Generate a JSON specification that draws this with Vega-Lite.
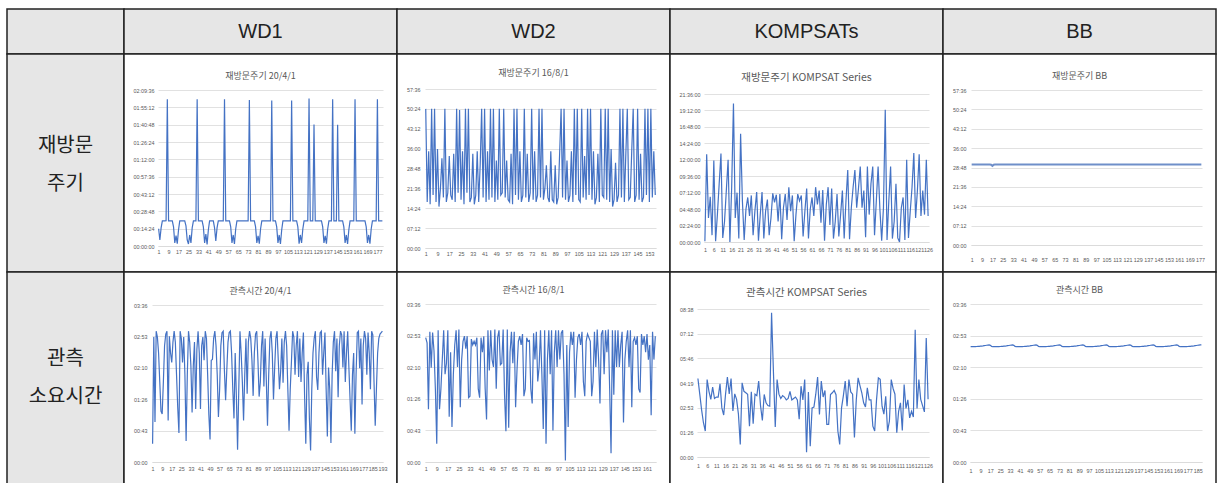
{
"$schema": "https://vega.github.io/schema/vega-lite/v6.json",
"background": "white",
"padding": {"left": 6, "top": 8, "right": 0, "bottom": 0},
"columns": 5,
"spacing": 0,
"bounds": "flush",
"config": {
  "view": {"stroke": null},
  "concat": {"spacing": 0},
  "font": "Noto Sans CJK KR",
  "axis": {"labelFont": "Liberation Sans", "labelFontSize": 5.4, "labelColor": "#595959", "ticks": false, "title": null, "gridColor": "#d9d9d9", "gridWidth": 0.8, "domainColor": "#d9d9d9", "domainWidth": 0.8, "labelAngle": 0, "labelOverlap": false, "labelFlush": false},
  "axisX": {"grid": false},
  "axisY": {"grid": true, "domain": false},
  "title": {"font": "Noto Sans CJK KR", "fontSize": 9, "fontWeight": "normal", "color": "#595959", "anchor": "middle", "baseline": "middle", "frame": "group"},
  "line": {"color": "#4472C4", "strokeWidth": 1.2}
},
"datasets": {
"a": [{"i":1,"v":860},{"i":2,"v":300},{"i":3,"v":900},{"i":4,"v":1250},{"i":5,"v":1250},{"i":6,"v":1250},{"i":7,"v":1260},{"i":8,"v":7310},{"i":9,"v":1250},{"i":10,"v":1250},{"i":11,"v":1250},{"i":12,"v":1250},{"i":13,"v":950},{"i":14,"v":150},{"i":15,"v":520},{"i":16,"v":120},{"i":17,"v":800},{"i":18,"v":1250},{"i":19,"v":1250},{"i":20,"v":1250},{"i":21,"v":1250},{"i":22,"v":1250},{"i":23,"v":1000},{"i":24,"v":300},{"i":25,"v":100},{"i":26,"v":550},{"i":27,"v":150},{"i":28,"v":900},{"i":29,"v":1250},{"i":30,"v":1250},{"i":31,"v":1250},{"i":32,"v":7310},{"i":33,"v":1250},{"i":34,"v":1250},{"i":35,"v":1250},{"i":36,"v":1250},{"i":37,"v":950},{"i":38,"v":150},{"i":39,"v":600},{"i":40,"v":80},{"i":41,"v":800},{"i":42,"v":1250},{"i":43,"v":1250},{"i":44,"v":1250},{"i":45,"v":1250},{"i":46,"v":900},{"i":47,"v":250},{"i":48,"v":900},{"i":49,"v":1250},{"i":50,"v":1250},{"i":51,"v":1250},{"i":52,"v":1250},{"i":53,"v":1250},{"i":54,"v":7310},{"i":55,"v":1250},{"i":56,"v":1250},{"i":57,"v":1250},{"i":58,"v":1250},{"i":59,"v":950},{"i":60,"v":150},{"i":61,"v":550},{"i":62,"v":100},{"i":63,"v":850},{"i":64,"v":1250},{"i":65,"v":1250},{"i":66,"v":1250},{"i":67,"v":1250},{"i":68,"v":1250},{"i":69,"v":1250},{"i":70,"v":1250},{"i":71,"v":1250},{"i":72,"v":1250},{"i":73,"v":1250},{"i":74,"v":7280},{"i":75,"v":1250},{"i":76,"v":1250},{"i":77,"v":1250},{"i":78,"v":1250},{"i":79,"v":950},{"i":80,"v":150},{"i":81,"v":500},{"i":82,"v":120},{"i":83,"v":850},{"i":84,"v":1250},{"i":85,"v":1250},{"i":86,"v":1250},{"i":87,"v":1250},{"i":88,"v":1250},{"i":89,"v":1250},{"i":90,"v":1250},{"i":91,"v":1250},{"i":92,"v":7250},{"i":93,"v":1250},{"i":94,"v":1250},{"i":95,"v":1250},{"i":96,"v":950},{"i":97,"v":150},{"i":98,"v":550},{"i":99,"v":100},{"i":100,"v":800},{"i":101,"v":1250},{"i":102,"v":1250},{"i":103,"v":1250},{"i":104,"v":1250},{"i":105,"v":1250},{"i":106,"v":1250},{"i":107,"v":1250},{"i":108,"v":7250},{"i":109,"v":1250},{"i":110,"v":1250},{"i":111,"v":1250},{"i":112,"v":1250},{"i":113,"v":950},{"i":114,"v":120},{"i":115,"v":550},{"i":116,"v":150},{"i":117,"v":850},{"i":118,"v":1250},{"i":119,"v":1250},{"i":120,"v":1250},{"i":121,"v":1250},{"i":122,"v":7350},{"i":123,"v":1250},{"i":124,"v":1250},{"i":125,"v":1250},{"i":126,"v":6060},{"i":127,"v":1250},{"i":128,"v":1250},{"i":129,"v":1250},{"i":130,"v":1250},{"i":131,"v":1250},{"i":132,"v":1250},{"i":133,"v":950},{"i":134,"v":150},{"i":135,"v":500},{"i":136,"v":120},{"i":137,"v":850},{"i":138,"v":1250},{"i":139,"v":1250},{"i":140,"v":1250},{"i":141,"v":7310},{"i":142,"v":1250},{"i":143,"v":1250},{"i":144,"v":1250},{"i":145,"v":6040},{"i":146,"v":1250},{"i":147,"v":1250},{"i":148,"v":1250},{"i":149,"v":1250},{"i":150,"v":950},{"i":151,"v":150},{"i":152,"v":550},{"i":153,"v":100},{"i":154,"v":800},{"i":155,"v":1250},{"i":156,"v":1250},{"i":157,"v":1250},{"i":158,"v":1250},{"i":159,"v":7310},{"i":160,"v":1250},{"i":161,"v":1250},{"i":162,"v":1250},{"i":163,"v":1250},{"i":164,"v":1250},{"i":165,"v":1250},{"i":166,"v":1250},{"i":167,"v":1250},{"i":168,"v":950},{"i":169,"v":150},{"i":170,"v":550},{"i":171,"v":120},{"i":172,"v":850},{"i":173,"v":1250},{"i":174,"v":1250},{"i":175,"v":1250},{"i":176,"v":1250},{"i":177,"v":7310},{"i":178,"v":1250},{"i":179,"v":1250},{"i":180,"v":1250},{"i":181,"v":1250}],
"b": [{"i":1,"v":3024},{"i":2,"v":1000},{"i":3,"v":2100},{"i":4,"v":950},{"i":5,"v":3024},{"i":6,"v":1150},{"i":7,"v":3024},{"i":8,"v":1000},{"i":9,"v":2150},{"i":10,"v":900},{"i":11,"v":1300},{"i":12,"v":1950},{"i":13,"v":1100},{"i":14,"v":3024},{"i":15,"v":1000},{"i":16,"v":1200},{"i":17,"v":2000},{"i":18,"v":1150},{"i":19,"v":1050},{"i":20,"v":2050},{"i":21,"v":1000},{"i":22,"v":3024},{"i":23,"v":1200},{"i":24,"v":3000},{"i":25,"v":1050},{"i":26,"v":2100},{"i":27,"v":950},{"i":28,"v":3024},{"i":29,"v":1200},{"i":30,"v":3024},{"i":31,"v":1000},{"i":32,"v":1100},{"i":33,"v":2050},{"i":34,"v":950},{"i":35,"v":1150},{"i":36,"v":2100},{"i":37,"v":1000},{"i":38,"v":1800},{"i":39,"v":3024},{"i":40,"v":1100},{"i":41,"v":3024},{"i":42,"v":1000},{"i":43,"v":2100},{"i":44,"v":1050},{"i":45,"v":3024},{"i":46,"v":1100},{"i":47,"v":3024},{"i":48,"v":1000},{"i":49,"v":1900},{"i":50,"v":1050},{"i":51,"v":3024},{"i":52,"v":1150},{"i":53,"v":1200},{"i":54,"v":3024},{"i":55,"v":1100},{"i":56,"v":1900},{"i":57,"v":1050},{"i":58,"v":1000},{"i":59,"v":2050},{"i":60,"v":950},{"i":61,"v":3024},{"i":62,"v":1150},{"i":63,"v":3024},{"i":64,"v":1050},{"i":65,"v":2100},{"i":66,"v":1000},{"i":67,"v":1150},{"i":68,"v":3024},{"i":69,"v":1100},{"i":70,"v":2050},{"i":71,"v":1000},{"i":72,"v":1200},{"i":73,"v":3024},{"i":74,"v":1050},{"i":75,"v":2100},{"i":76,"v":1000},{"i":77,"v":1150},{"i":78,"v":3024},{"i":79,"v":1100},{"i":80,"v":3024},{"i":81,"v":1050},{"i":82,"v":1300},{"i":83,"v":1800},{"i":84,"v":1100},{"i":85,"v":1000},{"i":86,"v":2100},{"i":87,"v":1050},{"i":88,"v":1000},{"i":89,"v":1800},{"i":90,"v":950},{"i":91,"v":1100},{"i":92,"v":2050},{"i":93,"v":3024},{"i":94,"v":1100},{"i":95,"v":3024},{"i":96,"v":1050},{"i":97,"v":1900},{"i":98,"v":1000},{"i":99,"v":1150},{"i":100,"v":2100},{"i":101,"v":1000},{"i":102,"v":3024},{"i":103,"v":1150},{"i":104,"v":3024},{"i":105,"v":1050},{"i":106,"v":1000},{"i":107,"v":3024},{"i":108,"v":1100},{"i":109,"v":2000},{"i":110,"v":1050},{"i":111,"v":3024},{"i":112,"v":1150},{"i":113,"v":3024},{"i":114,"v":1050},{"i":115,"v":2100},{"i":116,"v":950},{"i":117,"v":1100},{"i":118,"v":2050},{"i":119,"v":1000},{"i":120,"v":3024},{"i":121,"v":1150},{"i":122,"v":1100},{"i":123,"v":3024},{"i":124,"v":1050},{"i":125,"v":3024},{"i":126,"v":1000},{"i":127,"v":2150},{"i":128,"v":900},{"i":129,"v":1050},{"i":130,"v":1850},{"i":131,"v":1000},{"i":132,"v":1150},{"i":133,"v":3024},{"i":134,"v":1100},{"i":135,"v":3024},{"i":136,"v":1000},{"i":137,"v":2050},{"i":138,"v":3024},{"i":139,"v":1050},{"i":140,"v":1100},{"i":141,"v":2100},{"i":142,"v":3024},{"i":143,"v":1000},{"i":144,"v":1150},{"i":145,"v":3024},{"i":146,"v":1050},{"i":147,"v":2050},{"i":148,"v":1000},{"i":149,"v":1100},{"i":150,"v":3024},{"i":151,"v":1150},{"i":152,"v":3024},{"i":153,"v":1000},{"i":154,"v":3024},{"i":155,"v":1100},{"i":156,"v":2100},{"i":157,"v":1150}],
"c": [{"i":1,"v":0.1},{"i":2,"v":12.8},{"i":3,"v":3.5},{"i":4,"v":6.6},{"i":5,"v":1.0},{"i":6,"v":11.9},{"i":7,"v":0.1},{"i":8,"v":4.0},{"i":9,"v":8.5},{"i":10,"v":12.9},{"i":11,"v":0.6},{"i":12,"v":3.0},{"i":13,"v":7.5},{"i":14,"v":12.0},{"i":15,"v":0.0},{"i":16,"v":8.0},{"i":17,"v":20.2},{"i":18,"v":3.5},{"i":19,"v":7.2},{"i":20,"v":0.5},{"i":21,"v":15.8},{"i":22,"v":6.0},{"i":23,"v":0.3},{"i":24,"v":4.8},{"i":25,"v":6.5},{"i":26,"v":3.8},{"i":27,"v":6.8},{"i":28,"v":1.0},{"i":29,"v":4.5},{"i":30,"v":7.3},{"i":31,"v":0.2},{"i":32,"v":4.0},{"i":33,"v":7.3},{"i":34,"v":0.5},{"i":35,"v":4.5},{"i":36,"v":6.2},{"i":37,"v":1.0},{"i":38,"v":3.5},{"i":39,"v":7.1},{"i":40,"v":5.8},{"i":41,"v":6.9},{"i":42,"v":3.0},{"i":43,"v":7.0},{"i":44,"v":0.4},{"i":45,"v":5.0},{"i":46,"v":7.0},{"i":47,"v":3.2},{"i":48,"v":8.0},{"i":49,"v":4.5},{"i":50,"v":6.8},{"i":51,"v":0.1},{"i":52,"v":4.0},{"i":53,"v":7.0},{"i":54,"v":6.0},{"i":55,"v":6.8},{"i":56,"v":0.8},{"i":57,"v":4.5},{"i":58,"v":7.8},{"i":59,"v":0.5},{"i":60,"v":4.8},{"i":61,"v":6.5},{"i":62,"v":3.8},{"i":63,"v":8.0},{"i":64,"v":5.5},{"i":65,"v":7.5},{"i":66,"v":2.8},{"i":67,"v":7.6},{"i":68,"v":0.2},{"i":69,"v":5.5},{"i":70,"v":8.0},{"i":71,"v":2.5},{"i":72,"v":7.8},{"i":73,"v":0.5},{"i":74,"v":3.0},{"i":75,"v":7.0},{"i":76,"v":0.8},{"i":77,"v":4.0},{"i":78,"v":7.5},{"i":79,"v":0.5},{"i":80,"v":6.0},{"i":81,"v":10.5},{"i":82,"v":0.4},{"i":83,"v":5.0},{"i":84,"v":8.0},{"i":85,"v":10.5},{"i":86,"v":5.0},{"i":87,"v":7.8},{"i":88,"v":11.0},{"i":89,"v":5.0},{"i":90,"v":7.5},{"i":91,"v":0.7},{"i":92,"v":11.0},{"i":93,"v":4.0},{"i":94,"v":8.5},{"i":95,"v":11.0},{"i":96,"v":1.0},{"i":97,"v":6.0},{"i":98,"v":11.0},{"i":99,"v":4.8},{"i":100,"v":0.2},{"i":101,"v":5.0},{"i":102,"v":19.3},{"i":103,"v":0.3},{"i":104,"v":6.0},{"i":105,"v":11.0},{"i":106,"v":0.5},{"i":107,"v":3.0},{"i":108,"v":8.5},{"i":109,"v":0.6},{"i":110,"v":0.0},{"i":111,"v":5.0},{"i":112,"v":6.5},{"i":113,"v":0.3},{"i":114,"v":12.0},{"i":115,"v":0.6},{"i":116,"v":4.5},{"i":117,"v":8.0},{"i":118,"v":13.0},{"i":119,"v":3.5},{"i":120,"v":7.5},{"i":121,"v":12.8},{"i":122,"v":3.8},{"i":123,"v":7.5},{"i":124,"v":4.0},{"i":125,"v":12.0},{"i":126,"v":3.8}],
"d": [{"i":1,"v":1795},{"i":2,"v":1795},{"i":3,"v":1795},{"i":4,"v":1795},{"i":5,"v":1795},{"i":6,"v":1795},{"i":7,"v":1795},{"i":8,"v":1795},{"i":9,"v":1795},{"i":10,"v":1795},{"i":11,"v":1795},{"i":12,"v":1795},{"i":13,"v":1795},{"i":14,"v":1795},{"i":15,"v":1795},{"i":16,"v":1790},{"i":17,"v":1765},{"i":18,"v":1790},{"i":19,"v":1795},{"i":20,"v":1795},{"i":21,"v":1795},{"i":22,"v":1795},{"i":23,"v":1795},{"i":24,"v":1795},{"i":25,"v":1795},{"i":26,"v":1795},{"i":27,"v":1795},{"i":28,"v":1795},{"i":29,"v":1795},{"i":30,"v":1795},{"i":31,"v":1795},{"i":32,"v":1795},{"i":33,"v":1795},{"i":34,"v":1795},{"i":35,"v":1795},{"i":36,"v":1795},{"i":37,"v":1795},{"i":38,"v":1795},{"i":39,"v":1795},{"i":40,"v":1795},{"i":41,"v":1795},{"i":42,"v":1795},{"i":43,"v":1795},{"i":44,"v":1795},{"i":45,"v":1795},{"i":46,"v":1795},{"i":47,"v":1795},{"i":48,"v":1795},{"i":49,"v":1795},{"i":50,"v":1795},{"i":51,"v":1795},{"i":52,"v":1795},{"i":53,"v":1795},{"i":54,"v":1795},{"i":55,"v":1795},{"i":56,"v":1795},{"i":57,"v":1795},{"i":58,"v":1795},{"i":59,"v":1795},{"i":60,"v":1795},{"i":61,"v":1795},{"i":62,"v":1795},{"i":63,"v":1795},{"i":64,"v":1795},{"i":65,"v":1795},{"i":66,"v":1795},{"i":67,"v":1795},{"i":68,"v":1795},{"i":69,"v":1795},{"i":70,"v":1795},{"i":71,"v":1795},{"i":72,"v":1795},{"i":73,"v":1795},{"i":74,"v":1795},{"i":75,"v":1795},{"i":76,"v":1795},{"i":77,"v":1795},{"i":78,"v":1795},{"i":79,"v":1795},{"i":80,"v":1795},{"i":81,"v":1795},{"i":82,"v":1795},{"i":83,"v":1795},{"i":84,"v":1795},{"i":85,"v":1795},{"i":86,"v":1795},{"i":87,"v":1795},{"i":88,"v":1795},{"i":89,"v":1795},{"i":90,"v":1795},{"i":91,"v":1795},{"i":92,"v":1795},{"i":93,"v":1795},{"i":94,"v":1795},{"i":95,"v":1795},{"i":96,"v":1795},{"i":97,"v":1795},{"i":98,"v":1795},{"i":99,"v":1795},{"i":100,"v":1795},{"i":101,"v":1795},{"i":102,"v":1795},{"i":103,"v":1795},{"i":104,"v":1795},{"i":105,"v":1795},{"i":106,"v":1795},{"i":107,"v":1795},{"i":108,"v":1795},{"i":109,"v":1795},{"i":110,"v":1795},{"i":111,"v":1795},{"i":112,"v":1795},{"i":113,"v":1795},{"i":114,"v":1795},{"i":115,"v":1795},{"i":116,"v":1795},{"i":117,"v":1795},{"i":118,"v":1795},{"i":119,"v":1795},{"i":120,"v":1795},{"i":121,"v":1795},{"i":122,"v":1795},{"i":123,"v":1795},{"i":124,"v":1795},{"i":125,"v":1795},{"i":126,"v":1795},{"i":127,"v":1795},{"i":128,"v":1795},{"i":129,"v":1795},{"i":130,"v":1795},{"i":131,"v":1795},{"i":132,"v":1795},{"i":133,"v":1795},{"i":134,"v":1795},{"i":135,"v":1795},{"i":136,"v":1795},{"i":137,"v":1795},{"i":138,"v":1795},{"i":139,"v":1795},{"i":140,"v":1795},{"i":141,"v":1795},{"i":142,"v":1795},{"i":143,"v":1795},{"i":144,"v":1795},{"i":145,"v":1795},{"i":146,"v":1795},{"i":147,"v":1795},{"i":148,"v":1795},{"i":149,"v":1795},{"i":150,"v":1795},{"i":151,"v":1795},{"i":152,"v":1795},{"i":153,"v":1795},{"i":154,"v":1795},{"i":155,"v":1795},{"i":156,"v":1795},{"i":157,"v":1795},{"i":158,"v":1795},{"i":159,"v":1795},{"i":160,"v":1795},{"i":161,"v":1795},{"i":162,"v":1795},{"i":163,"v":1795},{"i":164,"v":1795},{"i":165,"v":1795},{"i":166,"v":1795},{"i":167,"v":1795},{"i":168,"v":1795},{"i":169,"v":1795},{"i":170,"v":1795},{"i":171,"v":1795},{"i":172,"v":1795},{"i":173,"v":1795},{"i":174,"v":1795},{"i":175,"v":1795},{"i":176,"v":1795},{"i":177,"v":1795},{"i":178,"v":1795}],
"e": [{"i":1,"v":25},{"i":2,"v":172},{"i":3,"v":55},{"i":4,"v":180},{"i":5,"v":172},{"i":6,"v":150},{"i":7,"v":110},{"i":8,"v":70},{"i":9,"v":66},{"i":10,"v":110},{"i":11,"v":160},{"i":12,"v":176},{"i":13,"v":180},{"i":14,"v":57},{"i":15,"v":173},{"i":16,"v":150},{"i":17,"v":137},{"i":18,"v":165},{"i":19,"v":180},{"i":20,"v":165},{"i":21,"v":120},{"i":22,"v":75},{"i":23,"v":40},{"i":24,"v":180},{"i":25,"v":170},{"i":26,"v":137},{"i":27,"v":172},{"i":28,"v":120},{"i":29,"v":29},{"i":30,"v":120},{"i":31,"v":180},{"i":32,"v":165},{"i":33,"v":132},{"i":34,"v":68},{"i":35,"v":132},{"i":36,"v":165},{"i":37,"v":73},{"i":38,"v":155},{"i":39,"v":180},{"i":40,"v":150},{"i":41,"v":73},{"i":42,"v":160},{"i":43,"v":172},{"i":44,"v":140},{"i":45,"v":180},{"i":46,"v":170},{"i":47,"v":120},{"i":48,"v":65},{"i":49,"v":31},{"i":50,"v":140},{"i":51,"v":141},{"i":52,"v":170},{"i":53,"v":180},{"i":54,"v":160},{"i":55,"v":120},{"i":56,"v":62},{"i":57,"v":100},{"i":58,"v":160},{"i":59,"v":178},{"i":60,"v":180},{"i":61,"v":126},{"i":62,"v":85},{"i":63,"v":127},{"i":64,"v":165},{"i":65,"v":178},{"i":66,"v":180},{"i":67,"v":150},{"i":68,"v":100},{"i":69,"v":60},{"i":70,"v":150},{"i":71,"v":90},{"i":72,"v":17},{"i":73,"v":100},{"i":74,"v":180},{"i":75,"v":150},{"i":76,"v":110},{"i":77,"v":57},{"i":78,"v":120},{"i":79,"v":170},{"i":80,"v":94},{"i":81,"v":165},{"i":82,"v":180},{"i":83,"v":170},{"i":84,"v":140},{"i":85,"v":91},{"i":86,"v":150},{"i":87,"v":176},{"i":88,"v":180},{"i":89,"v":140},{"i":90,"v":90},{"i":91,"v":110},{"i":92,"v":160},{"i":93,"v":180},{"i":94,"v":104},{"i":95,"v":170},{"i":96,"v":113},{"i":97,"v":50},{"i":98,"v":120},{"i":99,"v":170},{"i":100,"v":180},{"i":101,"v":150},{"i":102,"v":86},{"i":103,"v":130},{"i":104,"v":170},{"i":105,"v":180},{"i":106,"v":140},{"i":107,"v":100},{"i":108,"v":125},{"i":109,"v":170},{"i":110,"v":109},{"i":111,"v":165},{"i":112,"v":180},{"i":113,"v":160},{"i":114,"v":100},{"i":115,"v":43},{"i":116,"v":100},{"i":117,"v":138},{"i":118,"v":180},{"i":119,"v":172},{"i":120,"v":120},{"i":121,"v":160},{"i":122,"v":180},{"i":123,"v":117},{"i":124,"v":170},{"i":125,"v":110},{"i":126,"v":150},{"i":127,"v":178},{"i":128,"v":90},{"i":129,"v":25},{"i":130,"v":120},{"i":131,"v":138},{"i":132,"v":60},{"i":133,"v":16},{"i":134,"v":100},{"i":135,"v":150},{"i":136,"v":170},{"i":137,"v":180},{"i":138,"v":117},{"i":139,"v":99},{"i":140,"v":150},{"i":141,"v":178},{"i":142,"v":180},{"i":143,"v":120},{"i":144,"v":150},{"i":145,"v":178},{"i":146,"v":100},{"i":147,"v":35},{"i":148,"v":130},{"i":149,"v":100},{"i":150,"v":26},{"i":151,"v":120},{"i":152,"v":165},{"i":153,"v":180},{"i":154,"v":125},{"i":155,"v":170},{"i":156,"v":89},{"i":157,"v":160},{"i":158,"v":180},{"i":159,"v":175},{"i":160,"v":130},{"i":161,"v":180},{"i":162,"v":110},{"i":163,"v":150},{"i":164,"v":180},{"i":165,"v":130},{"i":166,"v":85},{"i":167,"v":43},{"i":168,"v":120},{"i":169,"v":150},{"i":170,"v":39},{"i":171,"v":120},{"i":172,"v":178},{"i":173,"v":180},{"i":174,"v":129},{"i":175,"v":170},{"i":176,"v":79},{"i":177,"v":160},{"i":178,"v":180},{"i":179,"v":170},{"i":180,"v":120},{"i":181,"v":178},{"i":182,"v":150},{"i":183,"v":100},{"i":184,"v":180},{"i":185,"v":175},{"i":186,"v":110},{"i":187,"v":50},{"i":188,"v":100},{"i":189,"v":150},{"i":190,"v":170},{"i":191,"v":176},{"i":192,"v":178},{"i":193,"v":180}],
"f": [{"i":1,"v":170},{"i":2,"v":163},{"i":3,"v":72},{"i":4,"v":178},{"i":5,"v":129},{"i":6,"v":177},{"i":7,"v":152},{"i":8,"v":100},{"i":9,"v":25},{"i":10,"v":180},{"i":11,"v":72},{"i":12,"v":100},{"i":13,"v":140},{"i":14,"v":180},{"i":15,"v":120},{"i":16,"v":135},{"i":17,"v":180},{"i":18,"v":62},{"i":19,"v":150},{"i":20,"v":48},{"i":21,"v":120},{"i":22,"v":160},{"i":23,"v":180},{"i":24,"v":130},{"i":25,"v":181},{"i":26,"v":75},{"i":27,"v":140},{"i":28,"v":165},{"i":29,"v":172},{"i":30,"v":155},{"i":31,"v":172},{"i":32,"v":88},{"i":33,"v":90},{"i":34,"v":168},{"i":35,"v":160},{"i":36,"v":165},{"i":37,"v":160},{"i":38,"v":170},{"i":39,"v":100},{"i":40,"v":88},{"i":41,"v":170},{"i":42,"v":150},{"i":43,"v":172},{"i":44,"v":100},{"i":45,"v":58},{"i":46,"v":180},{"i":47,"v":125},{"i":48,"v":180},{"i":49,"v":140},{"i":50,"v":130},{"i":51,"v":181},{"i":52,"v":100},{"i":53,"v":170},{"i":54,"v":180},{"i":55,"v":133},{"i":56,"v":135},{"i":57,"v":181},{"i":58,"v":92},{"i":59,"v":42},{"i":60,"v":181},{"i":61,"v":47},{"i":62,"v":150},{"i":63,"v":178},{"i":64,"v":135},{"i":65,"v":178},{"i":66,"v":75},{"i":67,"v":125},{"i":68,"v":165},{"i":69,"v":172},{"i":70,"v":160},{"i":71,"v":175},{"i":72,"v":90},{"i":73,"v":100},{"i":74,"v":170},{"i":75,"v":165},{"i":76,"v":166},{"i":77,"v":100},{"i":78,"v":80},{"i":79,"v":176},{"i":80,"v":140},{"i":81,"v":178},{"i":82,"v":110},{"i":83,"v":130},{"i":84,"v":180},{"i":85,"v":120},{"i":86,"v":45},{"i":87,"v":180},{"i":88,"v":25},{"i":89,"v":140},{"i":90,"v":180},{"i":91,"v":120},{"i":92,"v":180},{"i":93,"v":43},{"i":94,"v":150},{"i":95,"v":180},{"i":96,"v":130},{"i":97,"v":180},{"i":98,"v":140},{"i":99,"v":176},{"i":100,"v":180},{"i":101,"v":120},{"i":102,"v":2},{"i":103,"v":160},{"i":104,"v":48},{"i":105,"v":150},{"i":106,"v":178},{"i":107,"v":160},{"i":108,"v":178},{"i":109,"v":88},{"i":110,"v":140},{"i":111,"v":170},{"i":112,"v":175},{"i":113,"v":160},{"i":114,"v":178},{"i":115,"v":110},{"i":116,"v":90},{"i":117,"v":165},{"i":118,"v":175},{"i":119,"v":170},{"i":120,"v":165},{"i":121,"v":90},{"i":122,"v":110},{"i":123,"v":178},{"i":124,"v":130},{"i":125,"v":181},{"i":126,"v":140},{"i":127,"v":80},{"i":128,"v":175},{"i":129,"v":180},{"i":130,"v":120},{"i":131,"v":180},{"i":132,"v":150},{"i":133,"v":181},{"i":134,"v":100},{"i":135,"v":12},{"i":136,"v":180},{"i":137,"v":92},{"i":138,"v":180},{"i":139,"v":130},{"i":140,"v":180},{"i":141,"v":130},{"i":142,"v":160},{"i":143,"v":178},{"i":144,"v":54},{"i":145,"v":140},{"i":146,"v":165},{"i":147,"v":180},{"i":148,"v":130},{"i":149,"v":180},{"i":150,"v":75},{"i":151,"v":165},{"i":152,"v":170},{"i":153,"v":160},{"i":154,"v":172},{"i":155,"v":100},{"i":156,"v":95},{"i":157,"v":175},{"i":158,"v":160},{"i":159,"v":172},{"i":160,"v":150},{"i":161,"v":175},{"i":162,"v":140},{"i":163,"v":160},{"i":164,"v":64},{"i":165,"v":178},{"i":166,"v":140},{"i":167,"v":172}],
"g": [{"i":1,"v":275},{"i":2,"v":220},{"i":3,"v":165},{"i":4,"v":120},{"i":5,"v":91},{"i":6,"v":271},{"i":7,"v":230},{"i":8,"v":202},{"i":9,"v":245},{"i":10,"v":205},{"i":11,"v":210},{"i":12,"v":210},{"i":13,"v":256},{"i":14,"v":172},{"i":15,"v":147},{"i":16,"v":220},{"i":17,"v":280},{"i":18,"v":221},{"i":19,"v":275},{"i":20,"v":161},{"i":21,"v":221},{"i":22,"v":202},{"i":23,"v":150},{"i":24,"v":44},{"i":25,"v":260},{"i":26,"v":230},{"i":27,"v":225},{"i":28,"v":220},{"i":29,"v":108},{"i":30,"v":228},{"i":31,"v":117},{"i":32,"v":220},{"i":33,"v":215},{"i":34,"v":266},{"i":35,"v":180},{"i":36,"v":128},{"i":37,"v":219},{"i":38,"v":190},{"i":39,"v":180},{"i":40,"v":178},{"i":41,"v":505},{"i":42,"v":300},{"i":43,"v":105},{"i":44,"v":271},{"i":45,"v":220},{"i":46,"v":205},{"i":47,"v":215},{"i":48,"v":210},{"i":49,"v":200},{"i":50,"v":205},{"i":51,"v":230},{"i":52,"v":200},{"i":53,"v":205},{"i":54,"v":210},{"i":55,"v":200},{"i":56,"v":132},{"i":57,"v":248},{"i":58,"v":200},{"i":59,"v":271},{"i":60,"v":17},{"i":61,"v":228},{"i":62,"v":38},{"i":63,"v":172},{"i":64,"v":175},{"i":65,"v":220},{"i":66,"v":280},{"i":67,"v":149},{"i":68,"v":266},{"i":69,"v":210},{"i":70,"v":233},{"i":71,"v":114},{"i":72,"v":114},{"i":73,"v":219},{"i":74,"v":225},{"i":75,"v":233},{"i":76,"v":218},{"i":77,"v":91},{"i":78,"v":44},{"i":79,"v":172},{"i":80,"v":215},{"i":81,"v":266},{"i":82,"v":178},{"i":83,"v":271},{"i":84,"v":228},{"i":85,"v":220},{"i":86,"v":68},{"i":87,"v":200},{"i":88,"v":277},{"i":89,"v":250},{"i":90,"v":225},{"i":91,"v":190},{"i":92,"v":175},{"i":93,"v":242},{"i":94,"v":200},{"i":95,"v":200},{"i":96,"v":108},{"i":97,"v":91},{"i":98,"v":200},{"i":99,"v":277},{"i":100,"v":272},{"i":101,"v":178},{"i":102,"v":150},{"i":103,"v":213},{"i":104,"v":91},{"i":105,"v":126},{"i":106,"v":271},{"i":107,"v":240},{"i":108,"v":220},{"i":109,"v":85},{"i":110,"v":160},{"i":111,"v":190},{"i":112,"v":93},{"i":113,"v":254},{"i":114,"v":170},{"i":115,"v":200},{"i":116,"v":137},{"i":117,"v":160},{"i":118,"v":140},{"i":119,"v":446},{"i":120,"v":170},{"i":121,"v":271},{"i":122,"v":202},{"i":123,"v":180},{"i":124,"v":158},{"i":125,"v":417},{"i":126,"v":202}],
"h": [{"i":1,"v":157.6},{"i":2,"v":157.6},{"i":3,"v":157.7},{"i":4,"v":157.7},{"i":5,"v":157.8},{"i":6,"v":157.9},{"i":7,"v":158},{"i":8,"v":158.1},{"i":9,"v":158.3},{"i":10,"v":158.5},{"i":11,"v":158.7},{"i":12,"v":159},{"i":13,"v":159.3},{"i":14,"v":159.6},{"i":15,"v":159.9},{"i":16,"v":160.1},{"i":17,"v":159.5},{"i":18,"v":158},{"i":19,"v":157.6},{"i":20,"v":157.6},{"i":21,"v":157.6},{"i":22,"v":157.7},{"i":23,"v":157.7},{"i":24,"v":157.8},{"i":25,"v":157.9},{"i":26,"v":158},{"i":27,"v":158.1},{"i":28,"v":158.3},{"i":29,"v":158.5},{"i":30,"v":158.7},{"i":31,"v":159},{"i":32,"v":159.3},{"i":33,"v":159.6},{"i":34,"v":159.9},{"i":35,"v":160.1},{"i":36,"v":159.5},{"i":37,"v":158},{"i":38,"v":157.6},{"i":39,"v":157.6},{"i":40,"v":157.6},{"i":41,"v":157.7},{"i":42,"v":157.7},{"i":43,"v":157.8},{"i":44,"v":157.9},{"i":45,"v":158},{"i":46,"v":158.1},{"i":47,"v":158.3},{"i":48,"v":158.5},{"i":49,"v":158.7},{"i":50,"v":159},{"i":51,"v":159.3},{"i":52,"v":159.6},{"i":53,"v":159.9},{"i":54,"v":160.1},{"i":55,"v":159.5},{"i":56,"v":158},{"i":57,"v":157.6},{"i":58,"v":157.6},{"i":59,"v":157.6},{"i":60,"v":157.7},{"i":61,"v":157.7},{"i":62,"v":157.8},{"i":63,"v":157.9},{"i":64,"v":158},{"i":65,"v":158.1},{"i":66,"v":158.3},{"i":67,"v":158.5},{"i":68,"v":158.7},{"i":69,"v":159},{"i":70,"v":159.3},{"i":71,"v":159.6},{"i":72,"v":159.9},{"i":73,"v":160.1},{"i":74,"v":159.5},{"i":75,"v":158},{"i":76,"v":157.6},{"i":77,"v":157.6},{"i":78,"v":157.6},{"i":79,"v":157.7},{"i":80,"v":157.7},{"i":81,"v":157.8},{"i":82,"v":157.9},{"i":83,"v":158},{"i":84,"v":158.1},{"i":85,"v":158.3},{"i":86,"v":158.5},{"i":87,"v":158.7},{"i":88,"v":159},{"i":89,"v":159.3},{"i":90,"v":159.6},{"i":91,"v":159.9},{"i":92,"v":160.1},{"i":93,"v":159.5},{"i":94,"v":158},{"i":95,"v":157.6},{"i":96,"v":157.6},{"i":97,"v":157.6},{"i":98,"v":157.7},{"i":99,"v":157.7},{"i":100,"v":157.8},{"i":101,"v":157.9},{"i":102,"v":158},{"i":103,"v":158.1},{"i":104,"v":158.3},{"i":105,"v":158.5},{"i":106,"v":158.7},{"i":107,"v":159},{"i":108,"v":159.3},{"i":109,"v":159.6},{"i":110,"v":159.9},{"i":111,"v":160.1},{"i":112,"v":159.5},{"i":113,"v":158},{"i":114,"v":157.6},{"i":115,"v":157.6},{"i":116,"v":157.6},{"i":117,"v":157.7},{"i":118,"v":157.7},{"i":119,"v":157.8},{"i":120,"v":157.9},{"i":121,"v":158},{"i":122,"v":158.1},{"i":123,"v":158.3},{"i":124,"v":158.5},{"i":125,"v":158.7},{"i":126,"v":159},{"i":127,"v":159.3},{"i":128,"v":159.6},{"i":129,"v":159.9},{"i":130,"v":160.1},{"i":131,"v":159.5},{"i":132,"v":158},{"i":133,"v":157.6},{"i":134,"v":157.6},{"i":135,"v":157.6},{"i":136,"v":157.7},{"i":137,"v":157.7},{"i":138,"v":157.8},{"i":139,"v":157.9},{"i":140,"v":158},{"i":141,"v":158.1},{"i":142,"v":158.3},{"i":143,"v":158.5},{"i":144,"v":158.7},{"i":145,"v":159},{"i":146,"v":159.3},{"i":147,"v":159.6},{"i":148,"v":159.9},{"i":149,"v":160.1},{"i":150,"v":159.5},{"i":151,"v":158},{"i":152,"v":157.6},{"i":153,"v":157.6},{"i":154,"v":157.6},{"i":155,"v":157.7},{"i":156,"v":157.7},{"i":157,"v":157.8},{"i":158,"v":157.9},{"i":159,"v":158},{"i":160,"v":158.1},{"i":161,"v":158.3},{"i":162,"v":158.5},{"i":163,"v":158.7},{"i":164,"v":159},{"i":165,"v":159.3},{"i":166,"v":159.6},{"i":167,"v":159.9},{"i":168,"v":160.1},{"i":169,"v":159.5},{"i":170,"v":158},{"i":171,"v":157.6},{"i":172,"v":157.6},{"i":173,"v":157.6},{"i":174,"v":157.7},{"i":175,"v":157.7},{"i":176,"v":157.8},{"i":177,"v":157.9},{"i":178,"v":158},{"i":179,"v":158.1},{"i":180,"v":158.3},{"i":181,"v":158.5},{"i":182,"v":158.7},{"i":183,"v":159},{"i":184,"v":159.3},{"i":185,"v":159.6},{"i":186,"v":159.9},{"i":187,"v":160.1},{"i":188,"v":160.1}]
},
"concat": [
  {"width": 117, "height": 45, "view": {"fill": "#e6e6e6", "stroke": "#222", "strokeWidth": 1.5}, "data": {"values": [{"t": ""}]}, "mark": {"type": "text", "fontSize": 20, "color": "#222"}, "encoding": {"text": {"field": "t"}}},
  {"width": 273, "height": 45, "view": {"fill": "#e6e6e6", "stroke": "#222", "strokeWidth": 1.5}, "data": {"values": [{"t": "WD1"}]}, "mark": {"type": "text", "fontSize": 20, "color": "#222", "font": "Liberation Sans"}, "encoding": {"text": {"field": "t"}}},
  {"width": 273, "height": 45, "view": {"fill": "#e6e6e6", "stroke": "#222", "strokeWidth": 1.5}, "data": {"values": [{"t": "WD2"}]}, "mark": {"type": "text", "fontSize": 20, "color": "#222", "font": "Liberation Sans"}, "encoding": {"text": {"field": "t"}}},
  {"width": 273, "height": 45, "view": {"fill": "#e6e6e6", "stroke": "#222", "strokeWidth": 1.5}, "data": {"values": [{"t": "KOMPSATs"}]}, "mark": {"type": "text", "fontSize": 20, "color": "#222", "font": "Liberation Sans"}, "encoding": {"text": {"field": "t"}}},
  {"width": 273, "height": 45, "view": {"fill": "#e6e6e6", "stroke": "#222", "strokeWidth": 1.5}, "data": {"values": [{"t": "BB"}]}, "mark": {"type": "text", "fontSize": 20, "color": "#222", "font": "Liberation Sans"}, "encoding": {"text": {"field": "t"}}},
  {"width": 117, "height": 218, "view": {"fill": "#e6e6e6", "stroke": "#222", "strokeWidth": 1.5}, "data": {"values": [{"t": "재방문\n주기"}]}, "mark": {"type": "text", "fontSize": 20, "color": "#222", "lineBreak": "\n", "lineHeight": 38, "dy": -17}, "encoding": {"text": {"field": "t"}}},
  {"width": 273, "height": 218, "view": {"fill": "white", "stroke": "#222", "strokeWidth": 1.5},
   "title": {"text": "재방문주기 20/4/1", "offset": -27},
   "data": {"name": "a"}, "mark": "line",
   "encoding": {
    "x": {"field": "i", "type": "quantitative", "scale": {"domain": [0.5, 181.5], "range": [34, 259], "nice": false, "zero": false},
          "axis": {"offset": -26, "labelPadding": 3, "values": [1,9,17,25,33,41,49,57,65,73,81,89,97,105,113,121,129,137,145,153,161,169,177]}},
    "y": {"field": "v", "type": "quantitative", "scale": {"domain": [0, 7776], "range": [192, 36], "nice": false},
          "axis": {"offset": -34, "labelPadding": 4, "values": [0,864,1728,2592,3456,4320,5184,6048,6912,7776], "labelExpr": "utcFormat(datum.value*1000, '%H:%M:%S')"}}
   }},
  {"width": 273, "height": 218, "view": {"fill": "white", "stroke": "#222", "strokeWidth": 1.5},
   "title": {"text": "재방문주기 16/8/1", "offset": -24},
   "data": {"name": "b"}, "mark": "line",
   "encoding": {
    "x": {"field": "i", "type": "quantitative", "scale": {"domain": [0.5, 157.5], "range": [28, 259], "nice": false, "zero": false},
          "axis": {"offset": -24, "labelPadding": 3.5, "values": [1,9,17,25,33,41,49,57,65,73,81,89,97,105,113,121,129,137,145,153]}},
    "y": {"field": "v", "type": "quantitative", "scale": {"domain": [0, 3456], "range": [194, 35], "nice": false},
          "axis": {"offset": -28, "labelPadding": 5, "values": [0,432,864,1296,1728,2160,2592,3024,3456], "labelExpr": "utcFormat(datum.value*1000, '%M:%S')"}}
   }},
  {"width": 273, "height": 218, "view": {"fill": "white", "stroke": "#222", "strokeWidth": 1.5},
   "title": {"text": "재방문주기 KOMPSAT Series", "offset": -29, "fontSize": 10.5},
   "data": {"name": "c"}, "mark": "line",
   "encoding": {
    "x": {"field": "i", "type": "quantitative", "scale": {"domain": [0.5, 126.5], "range": [34, 259], "nice": false, "zero": false},
          "axis": {"offset": -30, "labelPadding": 5.5, "values": [1,6,11,16,21,26,31,36,41,46,51,56,61,66,71,76,81,86,91,96,101,106,111,116,121,126]}},
    "y": {"field": "v", "type": "quantitative", "scale": {"domain": [0, 21.6], "range": [188, 40], "nice": false},
          "axis": {"offset": -34, "labelPadding": 4, "values": [0,2.4,4.8,7.2,9.6,12,14.4,16.8,19.2,21.6], "labelExpr": "utcFormat(round(datum.value*3600)*1000, '%H:%M:%S')"}}
   }},
  {"width": 273, "height": 218, "view": {"fill": "white", "stroke": "#222", "strokeWidth": 1.5},
   "title": {"text": "재방문주기 BB", "offset": -27},
   "data": {"name": "d"}, "mark": {"type": "line", "strokeWidth": 2.2, "color": "#6f8fc9"},
   "encoding": {
    "x": {"field": "i", "type": "quantitative", "scale": {"domain": [0.5, 178.5], "range": [28, 259], "nice": false, "zero": false},
          "axis": {"offset": -27, "labelPadding": 12.5, "values": [1,9,17,25,33,41,49,57,65,73,81,89,97,105,113,121,129,137,145,153,161,169,177]}},
    "y": {"field": "v", "type": "quantitative", "scale": {"domain": [0, 3456], "range": [191, 36], "nice": false},
          "axis": {"offset": -28, "labelPadding": 5, "values": [0,432,864,1296,1728,2160,2592,3024,3456], "labelExpr": "utcFormat(datum.value*1000, '%M:%S')"}}
   }},
  {"width": 117, "height": 213, "view": {"fill": "#e6e6e6", "stroke": "#222", "strokeWidth": 1.5}, "data": {"values": [{"t": "관측\n소요시간"}]}, "mark": {"type": "text", "fontSize": 20, "color": "#222", "lineBreak": "\n", "lineHeight": 38, "dy": -20}, "encoding": {"text": {"field": "t"}}},
  {"width": 273, "height": 213, "view": {"fill": "white", "stroke": "#222", "strokeWidth": 1.5},
   "title": {"text": "관측시간 20/4/1", "offset": -24},
   "data": {"name": "e"}, "mark": "line",
   "encoding": {
    "x": {"field": "i", "type": "quantitative", "scale": {"domain": [0.5, 193.5], "range": [28, 259], "nice": false, "zero": false},
          "axis": {"offset": -23, "labelPadding": 4, "values": [1,9,17,25,33,41,49,57,65,73,81,89,97,105,113,121,129,137,145,153,161,169,177,185,193]}},
    "y": {"field": "v", "type": "quantitative", "scale": {"domain": [0, 216], "range": [190, 33], "nice": false},
          "axis": {"offset": -28, "labelPadding": 5, "values": [0,43.2,86.4,129.6,172.8,216], "labelExpr": "utcFormat(round(datum.value)*1000, '%M:%S')"}}
   }},
  {"width": 273, "height": 213, "view": {"fill": "white", "stroke": "#222", "strokeWidth": 1.5},
   "title": {"text": "관측시간 16/8/1", "offset": -23},
   "data": {"name": "f"}, "mark": "line",
   "encoding": {
    "x": {"field": "i", "type": "quantitative", "scale": {"domain": [0.5, 167.5], "range": [28, 259], "nice": false, "zero": false},
          "axis": {"offset": -23, "labelPadding": 4, "values": [1,9,17,25,33,41,49,57,65,73,81,89,97,105,113,121,129,137,145,153,161]}},
    "y": {"field": "v", "type": "quantitative", "scale": {"domain": [0, 216], "range": [190, 32], "nice": false},
          "axis": {"offset": -28, "labelPadding": 5, "values": [0,43.2,86.4,129.6,172.8,216], "labelExpr": "utcFormat(round(datum.value)*1000, '%M:%S')"}}
   }},
  {"width": 273, "height": 213, "view": {"fill": "white", "stroke": "#222", "strokeWidth": 1.5},
   "title": {"text": "관측시간 KOMPSAT Series", "offset": -26, "fontSize": 10.5},
   "data": {"name": "g"}, "mark": "line",
   "encoding": {
    "x": {"field": "i", "type": "quantitative", "scale": {"domain": [0.5, 126.5], "range": [27, 259], "nice": false, "zero": false},
          "axis": {"offset": -28, "labelPadding": 6, "values": [1,6,11,16,21,26,31,36,41,46,51,56,61,66,71,76,81,86,91,96,101,106,111,116,121,126]}},
    "y": {"field": "v", "type": "quantitative", "scale": {"domain": [0, 518.4], "range": [185, 37], "nice": false},
          "axis": {"offset": -27, "labelPadding": 4, "values": [0,86.4,172.8,259.2,345.6,432,518.4], "labelExpr": "utcFormat(round(datum.value)*1000, '%M:%S')"}}
   }},
  {"width": 273, "height": 213, "view": {"fill": "white", "stroke": "#222", "strokeWidth": 1.5},
   "title": {"text": "관측시간 BB", "offset": -23},
   "data": {"name": "h"}, "mark": "line",
   "encoding": {
    "x": {"field": "i", "type": "quantitative", "scale": {"domain": [0.5, 188.5], "range": [27, 259], "nice": false, "zero": false},
          "axis": {"offset": -23, "labelPadding": 6, "values": [1,9,17,25,33,41,49,57,65,73,81,89,97,105,113,121,129,137,145,153,161,169,177,185]}},
    "y": {"field": "v", "type": "quantitative", "scale": {"domain": [0, 216], "range": [190, 32], "nice": false},
          "axis": {"offset": -27, "labelPadding": 4, "values": [0,43.2,86.4,129.6,172.8,216], "labelExpr": "utcFormat(round(datum.value)*1000, '%M:%S')"}}
   }}
]
}
